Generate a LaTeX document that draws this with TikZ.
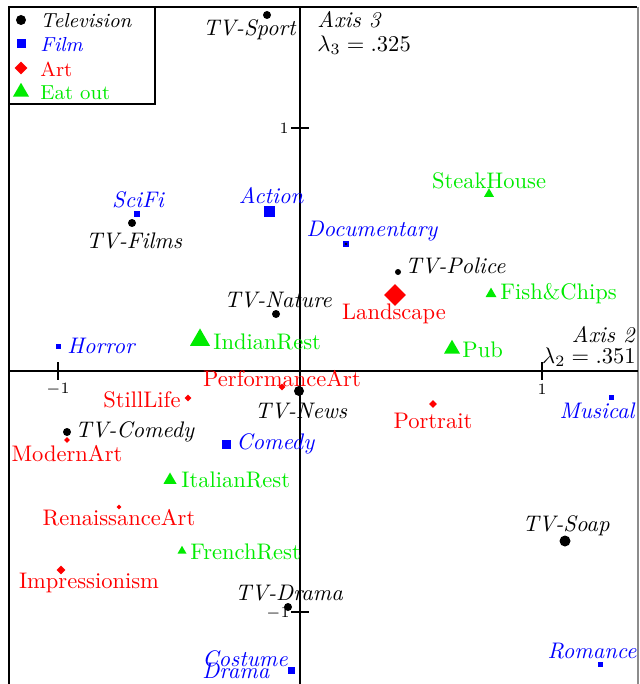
\documentclass[tikz,border=0pt]{standalone}
\usetikzlibrary{shapes.geometric}
\definecolor{cgreen}{RGB}{0,235,0}
\definecolor{cblue}{RGB}{0,0,255}
\definecolor{cred}{RGB}{255,0,0}
\begin{document}
\begin{tikzpicture}[x=0.444pt,y=-0.444pt,
  tvpt/.style={circle,fill=black,inner sep=0pt,minimum size={#1*0.444pt}},
  filmpt/.style={rectangle,fill=cblue,inner sep=0pt,minimum size={#1*0.444pt}},
  artpt/.style={diamond,fill=cred,inner sep=0pt,minimum size={#1*0.444pt}},
  eatpt/.style={regular polygon,regular polygon sides=3,fill=cgreen,inner sep=0pt,minimum size={#1*1.155*0.444pt}},
  tvlab/.style={font=\itshape,inner sep=0pt},
  filmlab/.style={font=\itshape,text=cblue,inner sep=0pt},
  artlab/.style={text=cred,inner sep=0pt},
  eatlab/.style={text=cgreen,inner sep=0pt},
  leglab/.style={font=\fontsize{9}{10}\selectfont,anchor=west,inner sep=0pt},
  ticklab/.style={font=\scriptsize,inner sep=0pt},
  axisline/.style={line width=0.6pt},
  ]
\useasboundingbox (0,0) rectangle (639,684);
% frame
\draw[line width=0.9pt] (9,684) -- (9,7) -- (637,7);
\draw[line width=0.6pt,black!45] (638,7) -- (638,684);
% axes
\coordinate (hl) at (9,371); \coordinate (hr) at (638,371);
\coordinate (vt) at (300,7); \coordinate (vb) at (300,684);
\draw[axisline] (hl) -- (hr);
\draw[axisline] (vt) -- (vb);
% ticks
\draw[axisline] (58,362) -- (58,380);
\draw[axisline] (542,362) -- (542,380);
\draw[axisline] (291,128) -- (309,128);
\draw[axisline] (291,612) -- (309,612);
\node[ticklab] (tkxm) at (58,389) {$-1$};
\node[ticklab] (tkxp) at (542,389) {1};
\node[ticklab,anchor=east] (tkyp) at (289,128) {1};
\node[ticklab,anchor=east] (tkym) at (290,613) {$-1$};
% axis labels
\node[anchor=west,inner sep=0pt] (ax3) at (317,20) {\textit{Axis 3}};
\node[anchor=west,inner sep=0pt] (lam3) at (317,45) {$\lambda_3 = .325$};
\node[anchor=east,inner sep=0pt] (ax2) at (636,335) {\textit{Axis 2}};
\node[anchor=east,inner sep=0pt] (lam2) at (636,357) {$\lambda_2 = .351$};
% legend
\draw[line width=0.5pt] (9,104) -- (155,104) -- (155,7);
\node[tvpt=10] (lg1) at (21,20) {};
\node[leglab,font=\fontsize{9}{10}\selectfont\itshape] (lg1t) at (40,21) {Television};
\node[filmpt=9] (lg2) at (21,44) {};
\node[leglab,font=\fontsize{9}{10}\selectfont\itshape,text=cblue] (lg2t) at (40,45) {Film};
\node[artpt=13] (lg3) at (21,68) {};
\node[leglab,text=cred] (lg3t) at (40,69) {Art};
\node[eatpt=16] (lg4) at (21,92) {};
\node[leglab,text=cgreen] (lg4t) at (40,93) {Eat out};
% Television
\node[tvpt=8] (sport) at (267,15) {};
\node[tvlab,anchor=east] (sportl) at (296,30) {TV-Sport};
\node[tvpt=8] (films) at (132,223) {};
\node[tvlab] (filmsl) at (134,241) {TV-Films};
\node[tvpt=8] (nature) at (276,314) {};
\node[tvlab] (naturel) at (278,300) {TV-Nature};
\node[tvpt=6] (police) at (398,272) {};
\node[tvlab,anchor=west] (policel) at (405,266) {TV-Police};
\node[tvpt=10] (news) at (299,391) {};
\node[tvlab] (newsl) at (301,411) {TV-News};
\node[tvpt=8] (comedytv) at (67,432) {};
\node[tvlab,anchor=west] (comedytvl) at (75,432) {TV-Comedy};
\node[tvpt=11] (soap) at (565,541) {};
\node[tvlab] (soapl) at (566,526) {TV-Soap};
\node[tvpt=8] (drama) at (288,607) {};
\node[tvlab] (dramal) at (289,593) {TV-Drama};
% Film
\node[filmpt=6] (scifi) at (137,214) {};
\node[filmlab] (scifil) at (138,200) {SciFi};
\node[filmpt=11] (action) at (269,212) {};
\node[filmlab] (actionl) at (271,196) {Action};
\node[filmpt=6] (docu) at (346,244) {};
\node[circle,fill=black,inner sep=0pt,minimum size=1.2pt] (docudot) at (346,244) {};
\node[filmlab] (docul) at (372,231) {Documentary};
\node[filmpt=5] (horror) at (58,346) {};
\node[filmlab,anchor=west] (horrorl) at (67,346) {Horror};
\node[filmpt=9] (comedy) at (226,444) {};
\node[filmlab,anchor=west] (comedyl) at (236,444) {Comedy};
\node[filmpt=5] (musical) at (611,397) {};
\node[filmlab] (musicall) at (597,411) {Musical};
\node[filmpt=7] (costume) at (291,670) {};
\node[filmlab,anchor=west] (costumel) at (202,659) {Costume};
\node[filmlab,anchor=west] (costumel2) at (202,671) {Drama};
\node[filmpt=5] (romance) at (600,664) {};
\node[filmlab] (romancel) at (592,651) {Romance};
% Art
\node[artpt=22] (landscape) at (395,295) {};
\node[artlab] (landscapel) at (394,314) {Landscape};
\node[artpt=7] (perf) at (282,387) {};
\node[artlab] (perfl) at (282,379) {PerformanceArt};
\node[artpt=7] (still) at (188,398) {};
\node[artlab,anchor=east] (stilll) at (181,400) {StillLife};
\node[artpt=8] (portrait) at (433,404) {};
\node[artlab] (portraitl) at (433,421) {Portrait};
\node[artpt=6] (modern) at (67,440) {};
\node[artlab] (modernl) at (67,454) {ModernArt};
\node[artpt=5] (renaiss) at (119,507) {};
\node[artlab] (renaissl) at (119,518) {RenaissanceArt};
\node[artpt=9] (impress) at (61,570) {};
\node[artlab] (impressl) at (89,583) {Impressionism};
% Eat out
\node[eatpt=10] (steak) at (489,194) {};
\node[eatlab] (steakl) at (489,181) {SteakHouse};
\node[eatpt=11] (fish) at (491,294) {};
\node[eatlab,anchor=west] (fishl) at (500,294) {Fish\&Chips};
\node[eatpt=20] (indian) at (200,340) {};
\node[eatlab,anchor=west] (indianl) at (213,342) {IndianRest};
\node[eatpt=16] (pub) at (452,349) {};
\node[eatlab,anchor=west] (publ) at (462,350) {Pub};
\node[eatpt=13] (italian) at (170,480) {};
\node[eatlab,anchor=west] (italianl) at (181,480) {ItalianRest};
\node[eatpt=9] (french) at (182,551) {};
\node[eatlab,anchor=west] (frenchl) at (190,552) {FrenchRest};
\end{tikzpicture}
\end{document}
